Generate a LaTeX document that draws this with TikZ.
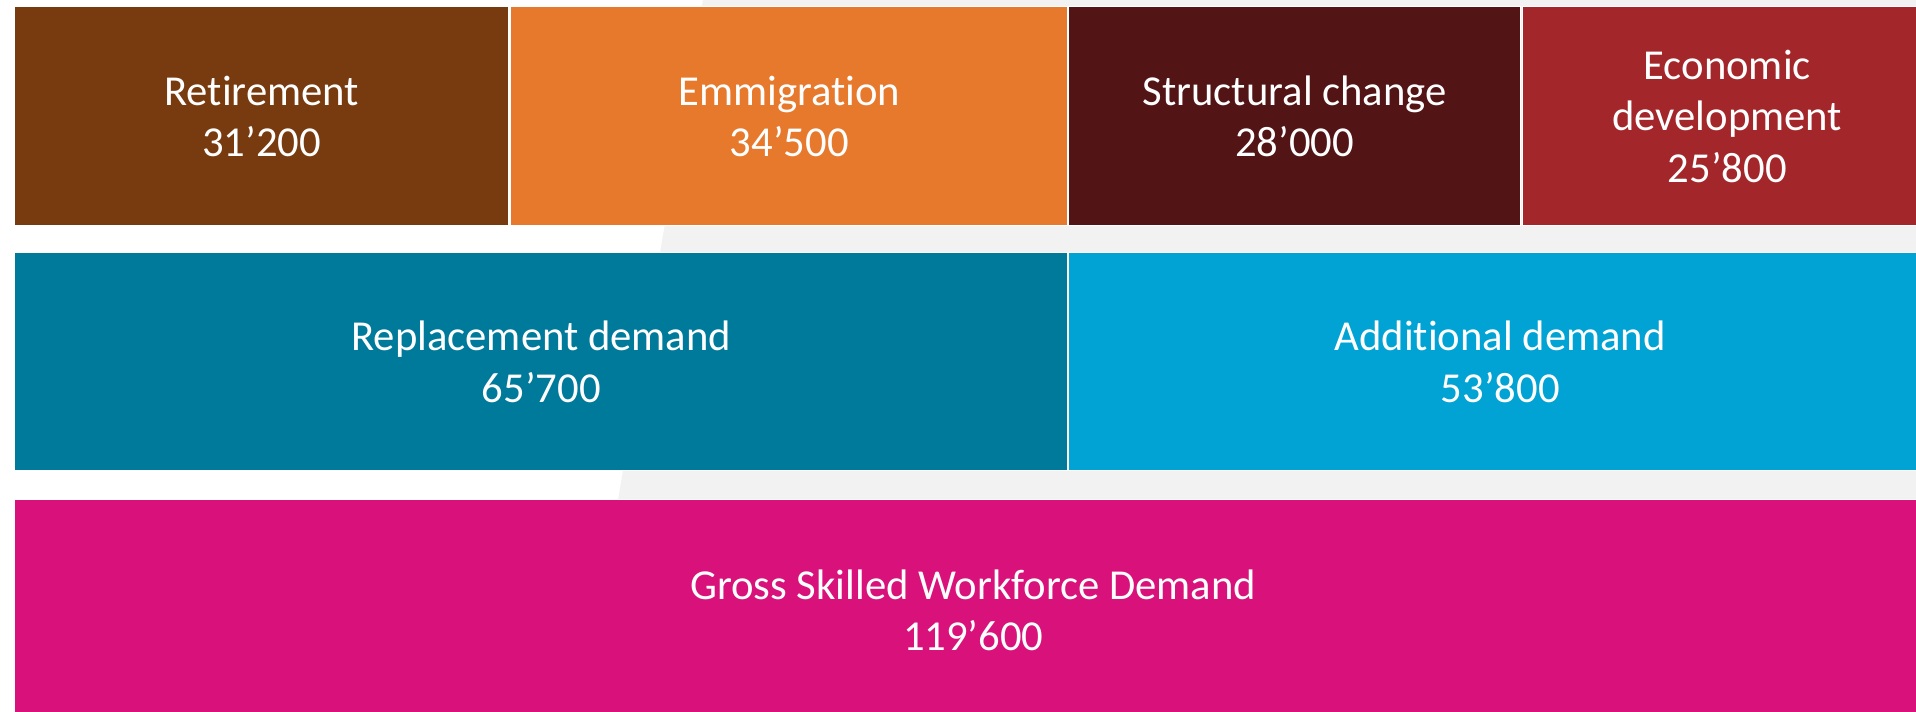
\documentclass[tikz,border=0pt]{standalone}
\usepackage{fontspec}
\setmainfont{Carlito}[Ligatures={NoCommon}]
\definecolor{cRet}{HTML}{783A0F}
\definecolor{cEmi}{HTML}{E7792D}
\definecolor{cStr}{HTML}{521415}
\definecolor{cEco}{HTML}{A3262A}
\definecolor{cRep}{HTML}{007A9B}
\definecolor{cAdd}{HTML}{00A3D3}
\definecolor{cGro}{HTML}{D9127B}
\definecolor{cBg}{HTML}{F2F2F2}
\tikzset{
  blk/.style={draw=white, line width=1.1pt, anchor=north west, inner sep=0pt,
    text=white, align=center, font=\fontsize{32}{38.6}\selectfont}
}
\begin{document}
\begin{tikzpicture}[x=0.75pt,y=-0.75pt]
\clip (0,0) rectangle (1916,712);
\fill[white] (0,0) rectangle (1916,712);
\fill[cBg] (703,0) -- (1916,0) -- (1916,712) -- (582,712) -- cycle;
% top row
\node[blk, fill=cRet, minimum width=494*0.75pt, minimum height=219*0.75pt] (ret) at (14,6) {Retirement\\31’200};
\node[blk, fill=cEmi, minimum width=557*0.75pt, minimum height=219*0.75pt] (emi) at (510,6) {Emmigration\\34’500};
\node[blk, fill=cStr, minimum width=452*0.75pt, minimum height=219*0.75pt] (str) at (1068,6) {Structural change\\28’000};
\node[blk, fill=cEco, minimum width=409*0.75pt, minimum height=219*0.75pt] (eco) at (1522,6) {Economic\\development\\25’800};
% middle row
\node[blk, fill=cRep, minimum width=1053*0.75pt, minimum height=218*0.75pt] (rep) at (14,252) {Replacement demand\\65’700};
\node[blk, fill=cAdd, minimum width=863*0.75pt, minimum height=218*0.75pt] (add) at (1068,252) {Additional demand\\53’800};
% bottom row
\node[blk, fill=cGro, minimum width=1917*0.75pt, minimum height=221*0.75pt] (gro) at (14,499) {Gross Skilled Workforce Demand\\119’600};
\end{tikzpicture}
\end{document}
